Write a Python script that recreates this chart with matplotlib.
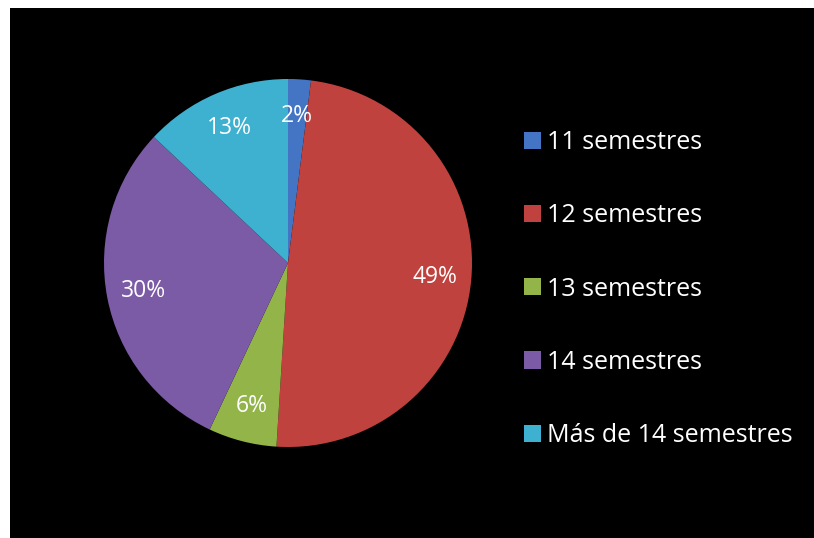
import matplotlib.pyplot as plt
from matplotlib.patches import Rectangle

# Data
categorias = ['11 semestres', '12 semestres', '13 semestres', '14 semestres', 'Más de 14 semestres']
porcentajes = [2, 49, 6, 30, 13]
colores = ['#4475C4', '#C0423E', '#93B448', '#7C5BA6', '#3EB0D0']

plt.rcParams['font.family'] = ['Open Sans', 'DejaVu Sans']

W, H = 814, 538
fig = plt.figure(figsize=(W / 100, H / 100), dpi=100, facecolor='white')

# black background panel (white margin on top and left)
fig.patches.append(Rectangle((10 / W, 0), 1, 1 - 8 / H, transform=fig.transFigure,
                             facecolor='black', edgecolor='none', zorder=-5))

# pie axes: center (288, 263) px, radius 184 px
cx, cy, r = 288, 263, 184
ax = fig.add_axes([(cx - r) / W, (H - cy - r) / H, 2 * r / W, 2 * r / H])
ax.set_facecolor('none')
ax.set_zorder(2)

wedges, textos, pcts = ax.pie(
    porcentajes, colors=colores, startangle=90, counterclock=False,
    autopct='%1.0f%%', pctdistance=0.8, radius=1,
    wedgeprops=dict(edgecolor='none'),
    textprops=dict(color='white', fontsize=16.5))
ax.set_xlim(-1, 1)
ax.set_ylim(-1, 1)
ax.axis('off')

leg = fig.legend(wedges, categorias, loc='upper left',
                 bbox_to_anchor=(524 / W, 1 - 130 / H), frameon=False,
                 fontsize=18, labelcolor='white', handlelength=0.68,
                 handleheight=0.68, handletextpad=0.25, labelspacing=1.93,
                 borderpad=0, borderaxespad=0)

fig.savefig('out.png', dpi=100, facecolor='white')
